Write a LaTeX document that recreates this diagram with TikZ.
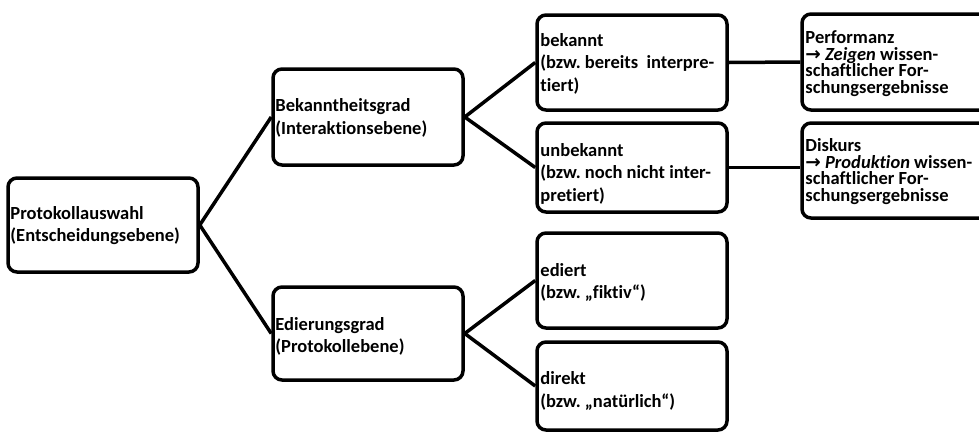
\documentclass[tikz,border=0pt]{standalone}
\usepackage{fontspec}
\setmainfont{Carlito}[RawFeature={-liga}]
\newfontfamily\arrowfont{DejaVu Sans}
\frenchspacing
\tikzset{
  box/.style={draw=black, line width=3.5pt, rounded corners=9pt, fill=white, inner sep=0pt},
  label/.style={anchor=west, inner sep=0pt, align=left,
    font=\fontsize{18.5pt}{22.5pt}\selectfont\bfseries},
  tight/.style={font=\fontsize{18.5pt}{16.5pt}\selectfont\bfseries},
  link/.style={draw=black, line width=3.5pt}
}
\newcommand{\arr}{{\arrowfont\bfseries →}}
\begin{document}
\begin{tikzpicture}[x=1pt,y=-1pt]
\useasboundingbox (0,0) rectangle (979,432);
\begin{scope}
\clip (0,0) rectangle (979,432);
\node[box, minimum width=190pt, minimum height=94pt] (A) at (103,225) {};
\node[box, minimum width=190pt, minimum height=96pt] (B) at (368,117) {};
\node[box, minimum width=190pt, minimum height=93pt] (C) at (368,333.5) {};
\node[box, minimum width=190pt, minimum height=95pt] (D) at (632,62.5) {};
\node[box, minimum width=190pt, minimum height=89pt] (E) at (632,167.5) {};
\node[box, minimum width=190pt, minimum height=95pt] (F) at (632,280.5) {};
\node[box, minimum width=190pt, minimum height=88pt] (G) at (632,386) {};
\node[box, minimum width=188pt, minimum height=96pt] (H) at (896,62) {};
\node[box, minimum width=188pt, minimum height=95pt] (I) at (896,170.5) {};
\end{scope}
\node[label] (At) at ([xshift=4pt,yshift=-0.5pt]A.west) {Protokollauswahl\\(Entscheidungsebene)};
\node[label] (Bt) at ([xshift=4pt,yshift=-1pt]B.west) {Bekanntheitsgrad\\(Interaktionsebene)};
\node[label] (Ct) at ([xshift=4pt,yshift=-3pt]C.west) {Edierungsgrad\\(Protokollebene)};
\node[label] (Dt) at ([xshift=5pt,yshift=-1pt]D.west) {bekannt\\(bzw. bereits\ \ interpre-\\tiert)};
\node[label] (Et) at ([xshift=5pt,yshift=-6pt]E.west) {unbekannt\\(bzw. noch nicht inter-\\pretiert)};
\node[label] (Ft) at ([xshift=5pt,yshift=-2pt]F.west) {ediert\\(bzw. „fiktiv“)};
\node[label] (Gt) at ([xshift=5pt,yshift=-5pt]G.west) {direkt\\(bzw. „natürlich“)};
\node[label, tight] (Ht) at ([xshift=5pt,yshift=-1.5pt]H.west)
  {Performanz\\\arr\ \textit{Zeigen} wissen-\\schaftlicher For-\\schungsergebnisse};
\node[label, tight] (It) at ([xshift=5pt,yshift=-1pt]I.west)
  {Diskurs\\\arr\ \textit{Produktion} wissen-\\schaftlicher For-\\schungsergebnisse};
\draw[link] (A.east) -- (B.west);
\draw[link] (A.east) -- (C.west);
\draw[link] (B.east) -- (D.west);
\draw[link] (B.east) -- (E.west);
\draw[link] (C.east) -- (F.west);
\draw[link] (C.east) -- (G.west);
\draw[link] (D.east) -- (H.west);
\draw[link] (E.east) -- (E.east -| I.west);
\end{tikzpicture}
\end{document}
